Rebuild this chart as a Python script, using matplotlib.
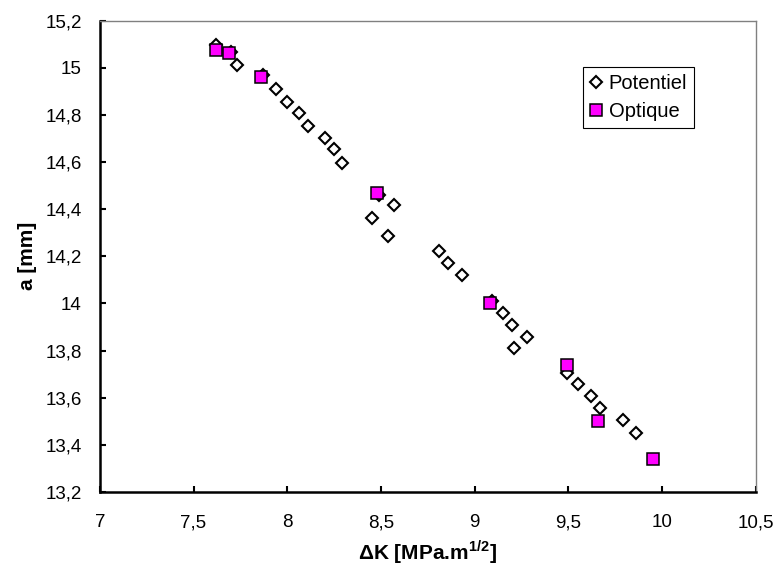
import matplotlib
matplotlib.use("Agg")
import matplotlib.pyplot as plt
from matplotlib.ticker import MultipleLocator, FuncFormatter

plt.rcParams['font.family'] = ['Liberation Sans', 'DejaVu Sans']
plt.rcParams['mathtext.fontset'] = 'custom'
plt.rcParams['mathtext.rm'] = 'Liberation Sans'
plt.rcParams['mathtext.bf'] = 'Liberation Sans:bold'

# Potentiel (diamonds)
pot_dk = [7.62, 7.70, 7.73, 7.87, 7.94, 8.00, 8.06, 8.11, 8.20, 8.25, 8.29,
          8.49, 8.57, 8.45, 8.54, 8.81, 8.86, 8.93, 9.09, 9.15, 9.20, 9.28, 9.21,
          9.49, 9.55, 9.62, 9.67, 9.79, 9.86]
pot_a = [15.095, 15.065, 15.012, 14.968, 14.910, 14.856, 14.807, 14.753, 14.703, 14.654, 14.598,
         14.46, 14.417, 14.361, 14.287, 14.222, 14.172, 14.119, 14.012, 13.958, 13.909, 13.856, 13.809,
         13.703, 13.657, 13.606, 13.558, 13.504, 13.448]

# Optique (squares)
opt_dk = [7.62, 7.69, 7.86, 8.48, 9.08, 9.49, 9.66, 9.95]
opt_a = [15.076, 15.064, 14.962, 14.467, 14.003, 13.738, 13.501, 13.338]

xlim = (7, 10.5)
ylim = (13.2, 15.2)

fig = plt.figure(figsize=(7.8, 5.74), dpi=100)
ax = fig.add_axes([0.128, 0.143, 0.841, 0.821])

ax.plot(pot_dk, pot_a, linestyle='none', marker='D', markersize=6.6,
        markerfacecolor='white', markeredgecolor='black', markeredgewidth=1.5,
        label='Potentiel', zorder=3)
ax.plot(opt_dk, opt_a, linestyle='none', marker='s', markersize=8.3,
        markerfacecolor='#FF00FF', markeredgecolor='black', markeredgewidth=1.1,
        label='Optique', zorder=4)

ax.set_xlim(*xlim)
ax.set_ylim(*ylim)
ax.xaxis.set_major_locator(MultipleLocator(0.5))
ax.yaxis.set_major_locator(MultipleLocator(0.2))
fmt = FuncFormatter(lambda v, p: ('%g' % round(v, 2)).replace('.', ','))
ax.xaxis.set_major_formatter(fmt)
ax.yaxis.set_major_formatter(fmt)

for s in ['left', 'bottom']:
    ax.spines[s].set_color('black')
    ax.spines[s].set_linewidth(1.8)
for s in ['top', 'right']:
    ax.spines[s].set_color('#808080')
    ax.spines[s].set_linewidth(1.0)

ax.tick_params(axis='x', direction='in', length=4.5, width=1.5, pad=16, labelsize=13.5)
ax.tick_params(axis='y', direction='in', length=4.5, width=1.5, pad=13, labelsize=13.5)

ax.set_xlabel(r'ΔK [MPa.m$^{\mathbf{1/2}}$]', fontsize=15, fontweight='bold', labelpad=5)
ax.set_ylabel('a [mm]', fontsize=15, fontweight='bold', labelpad=6)

leg = ax.legend(loc='upper left', bbox_to_anchor=(0.736, 0.902), fontsize=14.5,
                frameon=True, fancybox=False, edgecolor='black', framealpha=1,
                handlelength=0.6, handletextpad=0.35, borderpad=0.35, labelspacing=0.45,
                borderaxespad=0)
leg.get_frame().set_linewidth(0.8)

fig.savefig('out.png', dpi=100, facecolor='white')
